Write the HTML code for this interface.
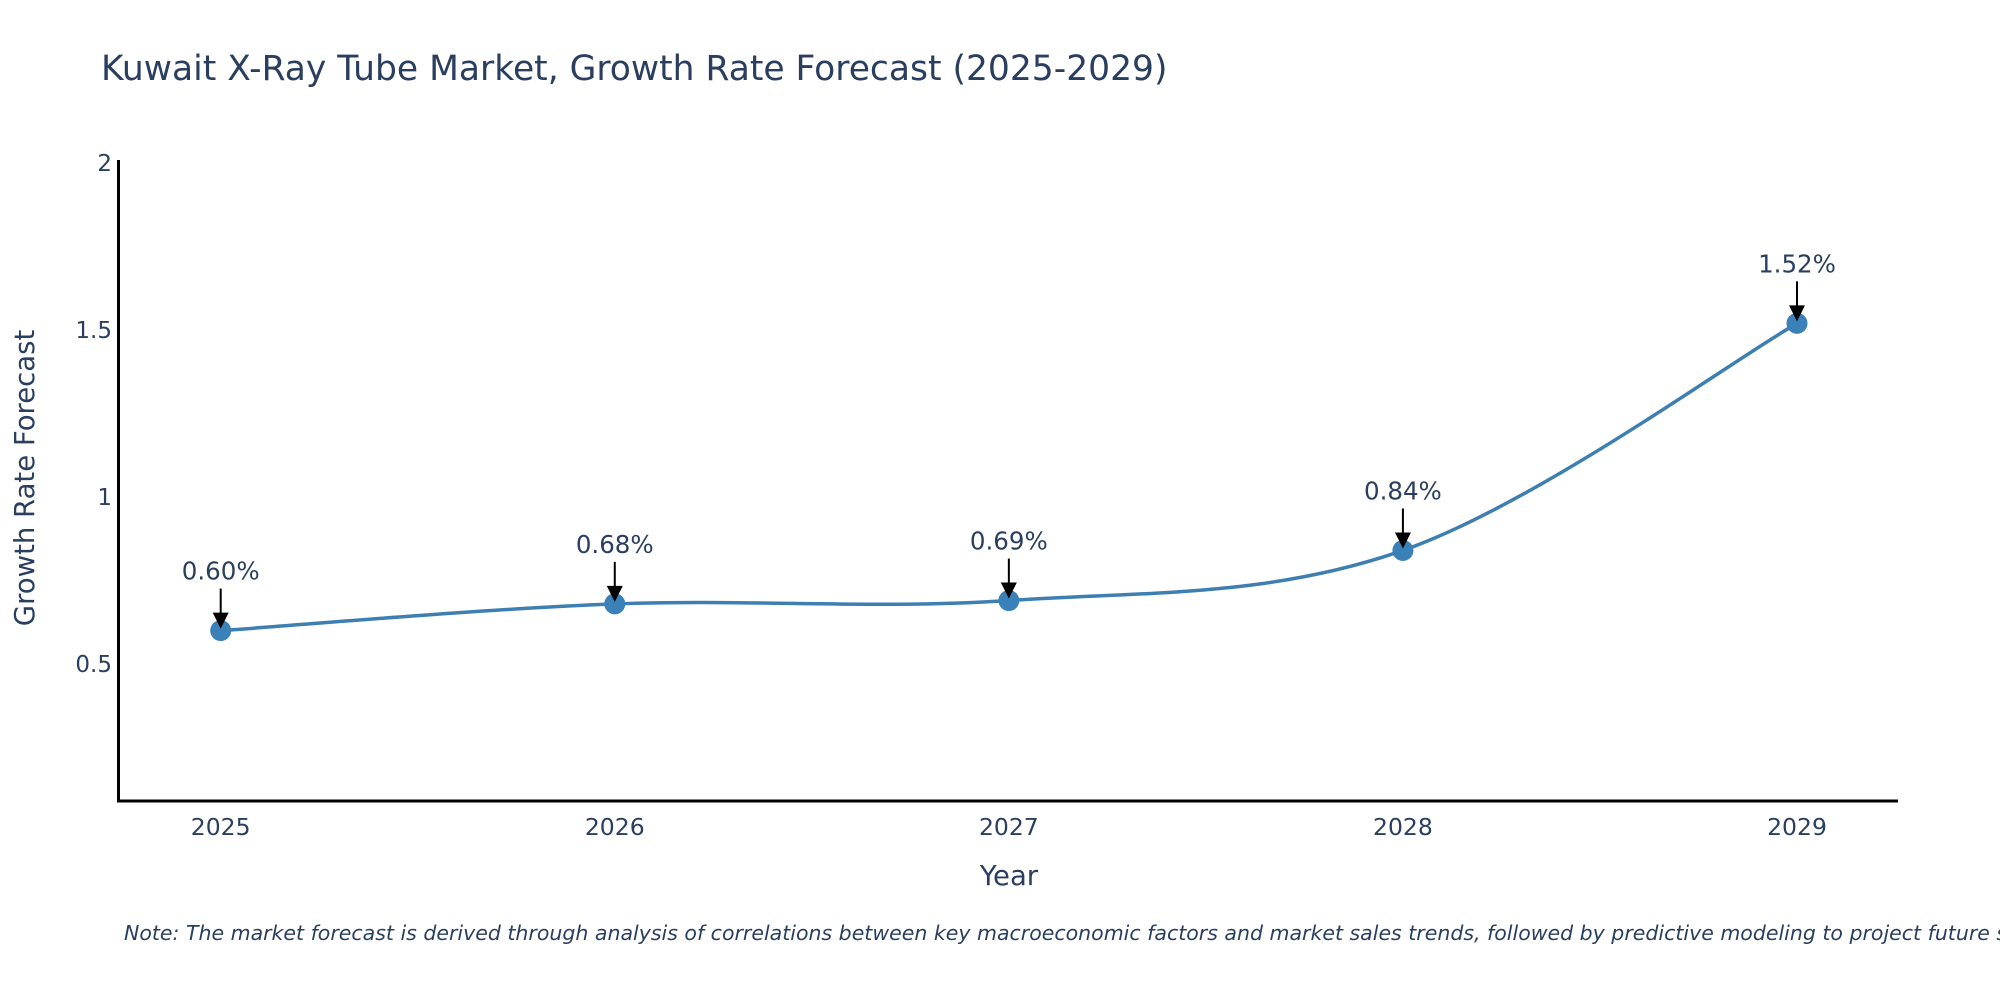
<!DOCTYPE html>
<html><head><meta charset="utf-8"><style>
body{margin:0;background:#fff;overflow:hidden}
svg text{font-family:"DejaVu Sans","Liberation Sans",sans-serif;fill:#2a3f5f}
</style></head><body>
<svg id="chart" width="2000" height="1000" xmlns="http://www.w3.org/2000/svg">
<text x="101" y="80" font-size="34.5">Kuwait X-Ray Tube Market, Growth Rate Forecast (2025-2029)</text>
<g id="yticks"></g>
<g id="xticks"></g>
<line x1="118.5" y1="160" x2="118.5" y2="802" stroke="#000" stroke-width="3"/>
<line x1="117" y1="801" x2="1898" y2="801" stroke="#000" stroke-width="3"/>
<text transform="translate(34,478) rotate(-90)" text-anchor="middle" font-size="27.5">Growth Rate Forecast</text>
<text x="1009" y="885" text-anchor="middle" font-size="27.5">Year</text>
<g id="series"></g>
<text x="124" y="940" font-size="20.5" font-style="italic">Note: The market forecast is derived through analysis of correlations between key macroeconomic factors and market sales trends, followed by predictive modeling to project future sales.</text>
</svg>
<script>
const years=[2025,2026,2027,2028,2029];
const values=[0.60,0.68,0.69,0.84,1.52];
const valueLabels=["0.60%","0.68%","0.69%","0.84%","1.52%"];
const yTickValues=[0.5,1,1.5,2];
const yTickLabels=["0.5","1","1.5","2"];
const NS="http://www.w3.org/2000/svg";
function xs(yr){return 220.7+(yr-2025)*(1797-220.7)/4;}
function ys(v){return 163+(2-v)*334;}
function mk(tag,attrs,parent){const e=document.createElementNS(NS,tag);for(const k in attrs)e.setAttribute(k,attrs[k]);parent.appendChild(e);return e;}
const yt=document.getElementById('yticks');
yTickValues.forEach((v,i)=>{const t=mk('text',{x:112,y:ys(v)+8,'text-anchor':'end','font-size':23},yt);


t.textContent=yTickLabels[i];});
const xt=document.getElementById('xticks');
years.forEach(yr=>{const t=mk('text',{x:xs(yr),y:835,'text-anchor':'middle','font-size':23.5},xt);


t.textContent=yr;});
const g=document.getElementById('series');
const pts=years.map((yr,i)=>[xs(yr),ys(values[i])]);
let d='M'+pts[0][0]+','+pts[0][1];
const s=0.17;
for(let i=0;i<pts.length-1;i++){const p0=pts[Math.max(0,i-1)],p1=pts[i],p2=pts[i+1],p3=pts[Math.min(pts.length-1,i+2)];
const c1=[p1[0]+(p2[0]-p0[0])*s,p1[1]+(p2[1]-p0[1])*s];
const c2=[p2[0]-(p3[0]-p1[0])*s,p2[1]-(p3[1]-p1[1])*s];
d+=' C'+c1+' '+c2+' '+p2;}
const line=mk('path',{d:d,fill:'none',stroke:'#3d7fb0','stroke-width':3.5},g);


pts.forEach((p,i)=>{
const c=mk('circle',{cx:p[0],cy:p[1],r:10.5,fill:'#3a80b9'},g);


const a=mk('line',{x1:p[0],y1:p[1]-42,x2:p[0],y2:p[1]-14,stroke:'#000','stroke-width':2},g);


const h=mk('path',{d:'M'+(p[0]-8)+','+(p[1]-18)+' L'+(p[0]+8)+','+(p[1]-18)+' L'+p[0]+','+(p[1]-2)+' Z',fill:'#000'},g);


const t=mk('text',{x:p[0],y:p[1]-51,'text-anchor':'middle','font-size':24.5},g);


t.textContent=valueLabels[i];});
</script>
</body></html>
